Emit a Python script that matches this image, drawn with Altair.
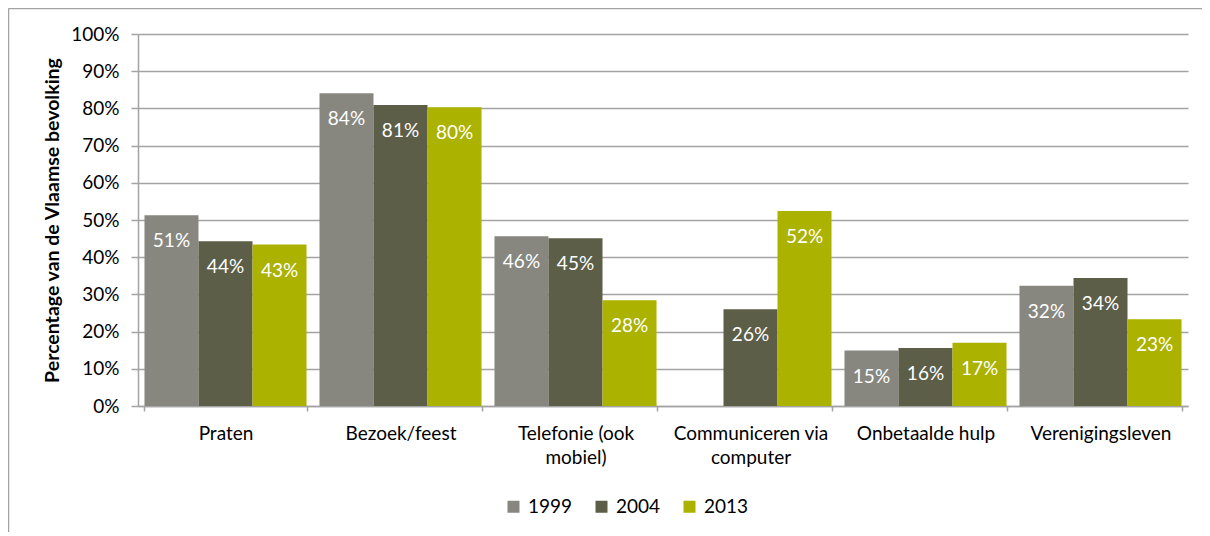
import altair as alt
import pandas as pd

categories = ["Praten", "Bezoek/feest", "Telefonie (ook mobiel)",
              "Communiceren via computer", "Onbetaalde hulp", "Verenigingsleven"]
label_lines = [["Praten"], ["Bezoek/feest"], ["Telefonie (ook", "mobiel)"],
               ["Communiceren via", "computer"], ["Onbetaalde hulp"], ["Verenigingsleven"]]
years = ["1999", "2004", "2013"]
v1999 = [51.3, 84.1, 45.6, None, 14.9, 32.3]
v2004 = [44.3, 80.9, 45.1, 26.0, 15.6, 34.4]
v2013 = [43.4, 80.3, 28.4, 52.4, 17.0, 23.3]
colors = ["#878780", "#5c5e48", "#abb200"]

rows = []
for yr, vals in zip(years, [v1999, v2004, v2013]):
    for c, v in zip(categories, vals):
        if v is not None:
            rows.append({"cat": c, "year": yr, "val": v})
df = pd.DataFrame(rows)

FONT = "Lato"
FS = 19
GRID = "#a3a3a3"

# label expression for multi-line x labels
expr = "datum.label"
for c, lines in zip(categories, label_lines):
    if len(lines) > 1:
        arr = "[" + ",".join("'" + l + "'" for l in lines) + "]"
        expr = f"datum.label == '{c}' ? {arr} : ({expr})"

x = alt.X("cat:N", sort=categories, title=None,
          scale=alt.Scale(paddingInner=0.074, paddingOuter=0.037),
          axis=alt.Axis(labelAngle=0, tickBand="extent", tickSize=5, tickColor=GRID,
                        tickWidth=1.5, domainColor=GRID, domainWidth=1.5,
                        labelFont=FONT, labelFontSize=FS, labelColor="#000000",
                        labelPadding=13, labelLineHeight=24, labelExpr=expr, grid=False))
y = alt.Y("val:Q", title="Percentage van de Vlaamse bevolking",
          scale=alt.Scale(domain=[0, 100], nice=False),
          axis=alt.Axis(values=list(range(0, 101, 10)), labelExpr="datum.value + '%'",
                        labelOverlap=False, labelFlush=False,
                        grid=True, gridColor=GRID, gridWidth=1.5, tickSize=7,
                        tickColor=GRID, tickWidth=1.5, domainColor=GRID, domainWidth=1.5,
                        labelFont=FONT, labelFontSize=FS, labelColor="#000000",
                        labelPadding=12, titleFont=FONT, titleFontSize=19.5,
                        titleFontWeight="bold", titleColor="#000000", titlePadding=8))
xo = alt.XOffset("year:N", sort=years)

base = alt.Chart(df)
bars = base.mark_bar().encode(
    x=x, y=y, xOffset=xo,
    color=alt.Color("year:N", sort=years,
                    scale=alt.Scale(domain=years, range=colors),
                    legend=alt.Legend(title=None, orient="none", legendX=366, legendY=463,
                                      direction="horizontal", symbolType="square",
                                      symbolSize=144, symbolStrokeWidth=0,
                                      labelFont=FONT, labelFontSize=FS, labelColor="#000000",
                                      labelOffset=5, columnPadding=19, padding=0)),
)
labels = base.mark_text(color="white", font=FONT, fontSize=FS, baseline="middle",
                        dy=26).transform_calculate(
    lbl="format(datum.val, '.0f') + '%'"
).encode(x=x, y=y, xOffset=xo, text="lbl:N")

frame_df = alt.Data(values=[{}])
frame_left = alt.Chart(frame_df).mark_rule(color=GRID, strokeWidth=1.5).encode(
    x=alt.value(-129.5), y=alt.value(-25.5), y2=alt.value(700))
frame_top = alt.Chart(frame_df).mark_rule(color=GRID, strokeWidth=1.5).encode(
    x=alt.value(-129.5), x2=alt.value(1300), y=alt.value(-25.5))

chart = alt.layer(bars, labels, frame_left, frame_top).properties(
    width=1050, height=372,
    autosize=alt.AutoSizeParams(type="none"),
    padding={"left": 130, "top": 26, "right": 14, "bottom": 126},
).configure_view(stroke=None)

chart.save("out.html", embed_options={"renderer": "svg", "actions": False})
